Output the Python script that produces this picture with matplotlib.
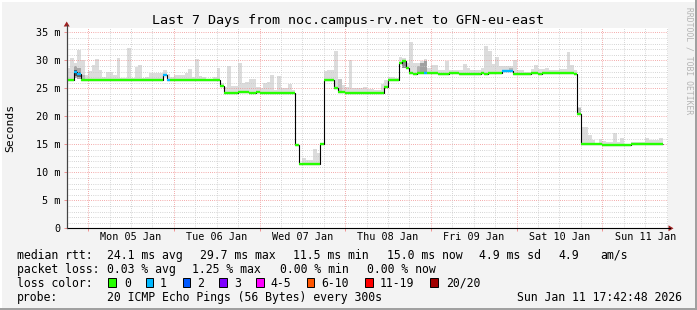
"""
SmokePing style latency graph: last 7 days, noc.campus-rv.net -> GFN-eu-east.
Hourly median (coloured by loss) over grey smoke of the ping spread.
"""
import numpy as np
import matplotlib
matplotlib.use("Agg")
import matplotlib.pyplot as plt
from matplotlib.patches import Rectangle, Polygon

W, H = 697, 310
BG = "#f3f3f3"
MONO = "DejaVu Sans Mono"

# hourly median rtt in ms, first hour = Jan 4 18:00
MEDIAN = [
    26.4, 26.4, 28.0, 27.5, 26.4, 26.4, 26.4, 26.4, 26.4, 26.4,
    26.4, 26.4, 26.4, 26.4, 26.4, 26.4, 26.4, 26.4, 26.4, 26.4,
    26.4, 26.4, 26.4, 26.4, 26.4, 26.4, 26.4, 27.4, 26.4, 26.4,
    26.4, 26.4, 26.4, 26.4, 26.4, 26.4, 26.4, 26.4, 26.4, 26.4,
    26.4, 26.4, 26.4, 25.5, 24.2, 24.2, 24.2, 24.2, 24.4, 24.4,
    24.4, 24.2, 24.2, 24.4, 24.2, 24.2, 24.2, 24.2, 24.2, 24.2,
    24.2, 24.2, 24.2, 24.2, 14.9, 11.5, 11.5, 11.5, 11.5, 11.5,
    11.5, 15.0, 26.4, 26.4, 26.4, 25.0, 24.4, 24.4, 24.2, 24.2,
    24.2, 24.2, 24.2, 24.2, 24.2, 24.2, 24.2, 24.2, 24.2, 25.3,
    26.4, 26.4, 26.4, 29.5, 29.8, 28.6, 27.8, 27.5, 27.8, 27.8,
    27.7, 27.7, 27.7, 27.7, 27.5, 27.5, 27.5, 27.7, 27.7, 27.7,
    27.5, 27.5, 27.5, 27.5, 27.5, 27.5, 27.7, 27.5, 27.8, 27.8,
    27.8, 27.8, 28.1, 28.1, 28.1, 27.5, 27.5, 27.5, 27.5, 27.5,
    27.7, 27.7, 27.5, 27.8, 27.8, 27.8, 27.8, 27.8, 27.8, 27.8,
    27.8, 27.8, 27.5, 20.4, 15.0, 15.0, 15.0, 15.0, 15.0, 15.0,
    14.9, 14.9, 14.9, 14.9, 14.9, 14.9, 14.9, 14.9, 15.0, 15.0,
    15.0, 15.0, 15.0, 15.0, 15.0, 15.0, 15.0,
]

# highest ping of each hour (top of the smoke)
SMOKE_MAX = [
    28.6, 30.4, 29.6, 31.8, 30.0, 27.3, 28.1, 29.2, 30.2, 28.2,
    27.0, 28.0, 28.0, 27.4, 30.5, 26.8, 26.8, 32.2, 26.8, 28.8,
    29.1, 26.9, 27.1, 27.8, 27.8, 27.8, 27.8, 28.2, 27.6, 27.0,
    27.4, 27.4, 27.4, 27.8, 28.5, 27.1, 30.2, 27.2, 27.0, 26.7,
    26.7, 27.0, 28.6, 25.9, 25.3, 28.9, 25.4, 25.5, 29.6, 25.9,
    26.2, 26.6, 26.6, 25.3, 25.0, 26.0, 26.2, 27.3, 24.7, 27.2,
    25.0, 25.0, 25.8, 24.7, 14.9, 11.5, 12.5, 12.2, 12.2, 14.2,
    13.4, 15.0, 28.1, 28.2, 28.2, 31.7, 26.6, 25.6, 25.3, 30.0,
    25.0, 25.0, 25.0, 25.2, 24.8, 24.8, 24.7, 24.7, 25.7, 26.5,
    27.1, 27.1, 26.9, 30.6, 30.5, 29.5, 33.3, 29.5, 29.5, 29.8,
    30.2, 28.6, 29.1, 29.1, 28.3, 28.3, 29.9, 28.3, 28.3, 28.3,
    28.3, 29.3, 28.6, 28.2, 28.2, 28.2, 28.6, 32.6, 31.7, 29.3,
    30.6, 29.0, 28.9, 29.0, 29.0, 30.1, 28.3, 28.3, 28.0, 28.0,
    28.5, 29.2, 28.4, 28.4, 28.7, 28.3, 28.3, 28.3, 28.5, 28.5,
    31.5, 29.2, 28.3, 21.7, 18.1, 18.1, 16.6, 15.8, 15.2, 16.0,
    15.6, 15.4, 15.4, 17.1, 15.4, 16.2, 15.1, 15.1, 15.4, 15.4,
    15.4, 15.4, 16.2, 15.7, 15.7, 15.7, 16.2,
]

# hours that lost one of the 20 pings (loss class 1)
LOSS_HOURS = [2, 3, 27, 28, 100, 122, 123, 124]

# denser smoke near the median where the pings bunched up
DENSE_HOURS = [2, 3, 4, 76, 94, 98, 99, 100, 124, 143, 2, 3]
DENSE_LO = [26.8, 26.6, 26.4, 24.4, 28.6, 27.8, 27.8, 27.8, 27.9, 20.4, 27.2, 27.0]
DENSE_HI = [29.0, 28.6, 27.4, 26.6, 30.0, 29.0, 29.5, 29.8, 28.6, 21.4, 28.3, 28.0]
DENSE_SHADE = ["#a8a8a8", "#a8a8a8", "#b8b8b8", "#c4c4c4", "#909090", "#b0b0b0",
               "#a0a0a0", "#a0a0a0", "#b8b8b8", "#b8b8b8", "#555555", "#606060"]

LOSS_LABELS = ["0", "1", "2", "3", "4-5", "6-10", "11-19", "20/20"]
LOSS_COLORS = ["#26ff00", "#00b8ff", "#0059ff", "#7e00ff",
               "#ff00ff", "#ff5500", "#ff0000", "#a10000"]

DAY_LABELS = ["Mon 05 Jan", "Tue 06 Jan", "Wed 07 Jan", "Thu 08 Jan",
              "Fri 09 Jan", "Sat 10 Jan", "Sun 11 Jan"]
Y_TICKS = [0, 5, 10, 15, 20, 25, 30, 35]
Y_LABELS = ["0", "5 m", "10 m", "15 m", "20 m", "25 m", "30 m", "35 m"]


def fx(x):
    return x / W


def fy(y):
    return 1 - y / H


def main():
    fig = plt.figure(figsize=(W / 100, H / 100), dpi=100, facecolor=BG)

    # plot canvas: x 66.7..668 px, y 28..228.3 px
    ax = fig.add_axes([fx(66.7), fy(228.3), 601.3 / W, 200.3 / H])
    ax.set_facecolor("white")
    ax.set_xlim(-6, 162.4)
    ax.set_ylim(0, 200.3 / 5.6)

    n = len(MEDIAN)
    med = np.array(MEDIAN)
    left = np.arange(n) - 6.0  # hours from Jan 5 00:00

    # smoke
    ax.bar(left, np.array(SMOKE_MAX) - med, bottom=med, width=1.0,
           align="edge", color="#dcdcdc", linewidth=0, zorder=1)
    for h, lo, hi, c in zip(DENSE_HOURS, DENSE_LO, DENSE_HI, DENSE_SHADE):
        ax.bar(left[h], hi - lo, bottom=lo, width=1.0, align="edge",
               color=c, linewidth=0, zorder=1.5)

    # grid drawn on top of the smoke like rrdtool does
    dots = (0, (0.72, 1.44))
    for v in range(1, 36):
        major = v % 5 == 0
        ax.axhline(v, color="#f09090" if major else "#c8c8c8", lw=0.72,
                   linestyle=dots, zorder=2)
    for hr in range(0, 163, 6):
        major = hr % 24 == 0
        ax.axvline(hr, color="#f09090" if major else "#c8c8c8", lw=0.72,
                   linestyle=dots, zorder=2)

    # median: black steps, then loss coloured flats
    edges = np.append(left, left[-1] + 1)
    ax.stairs(med, edges, baseline=None, color="black", lw=0.8, zorder=3)
    loss = np.zeros(n, dtype=int)
    loss[LOSS_HOURS] = 1
    ax.hlines(med, left, left + 1, colors=[LOSS_COLORS[k] for k in loss],
              lw=1.7, zorder=4, capstyle="butt")

    for s in ("top", "right"):
        ax.spines[s].set_visible(False)
    ax.spines["left"].set_color("#444444")
    ax.spines["bottom"].set_color("black")
    ax.spines["left"].set_linewidth(0.8)
    ax.spines["bottom"].set_linewidth(0.8)

    ax.set_xticks([12 + 24 * i for i in range(7)], DAY_LABELS)
    ax.set_xticks(range(0, 163, 24), minor=True)
    ax.tick_params(axis="x", which="major", length=0, pad=2.6,
                   labelsize=7.3)
    ax.tick_params(axis="x", which="minor", length=2.4, width=0.7,
                   color="#f09090", direction="out")
    ax.set_yticks(Y_TICKS, Y_LABELS)
    ax.tick_params(axis="y", length=2.4, width=0.7, pad=2.3, labelsize=7.3,
                   color="#f09090")
    for lab in ax.get_xticklabels() + ax.get_yticklabels():
        lab.set_fontfamily(MONO)

    # axis arrows
    arrow = "#a02020"
    fig.add_artist(plt.Line2D([fx(66.7), fx(66.7)], [fy(228.3), fy(25)],
                              color="#444444", lw=0.8))
    fig.add_artist(plt.Line2D([fx(668), fx(670)], [fy(228.3), fy(228.3)],
                              color="black", lw=0.8))
    fig.add_artist(Polygon([(fx(63.7), fy(26.5)), (fx(69.7), fy(26.5)),
                            (fx(66.7), fy(21.5))], closed=True,
                           facecolor=arrow, edgecolor="none"))
    fig.add_artist(Polygon([(fx(668.5), fy(225.3)), (fx(668.5), fy(231.3)),
                            (fx(673.5), fy(228.3))], closed=True,
                           facecolor=arrow, edgecolor="none"))

    fig.text(fx(348), fy(24), "Last 7 Days from noc.campus-rv.net to GFN-eu-east",
             fontsize=9.6, family=MONO, ha="center", va="baseline")
    fig.text(fx(10.5), fy(128), "Seconds", fontsize=8.2, family=MONO,
             rotation=90, ha="center", va="center")
    fig.text(fx(689.5), fy(61), "RRDTOOL / TOBI OETIKER", fontsize=5.8,
             family=MONO, rotation=-90, ha="center", va="center",
             color="#b4b4b4")

    fs = 8.3
    rows = [
        (258.6, [(16.7, "median rtt:"), (107.3, "24.1 ms avg"),
                 (200, "29.7 ms max"), (292.7, "11.5 ms min"),
                 (386.7, "15.0 ms now"), (479.3, "4.9 ms sd"),
                 (558.3, "4.9"), (600.7, "am/s")]),
        (272.6, [(16.7, "packet loss:"), (107.3, "0.03 % avg"),
                 (191.7, "1.25 % max"), (280, "0.00 % min"),
                 (366.7, "0.00 % now")]),
        (286.6, [(16.7, "loss color:")]),
        (300.6, [(16.7, "probe:"),
                 (107.3, "20 ICMP Echo Pings (56 Bytes) every 300s")]),
    ]
    for base, items in rows:
        for x, t in items:
            fig.text(fx(x), fy(base), t, fontsize=fs, family=MONO,
                     va="baseline")
    fig.text(fx(681.7), fy(300.6), "Sun Jan 11 17:42:48 2026", fontsize=fs,
             family=MONO, ha="right", va="baseline")

    box_x = [108.3, 145.7, 182.7, 219.3, 256, 306.7, 365, 430]
    lab_x = [124, 160, 197, 234.3, 270, 321.7, 380, 446]
    for bx, lx, c, t in zip(box_x, lab_x, LOSS_COLORS, LOSS_LABELS):
        fig.add_artist(Rectangle((fx(bx), fy(286.5)), 7.5 / W, 8.5 / H,
                                 facecolor=c, edgecolor="black", lw=0.7))
        fig.text(fx(lx), fy(286.6), t, fontsize=fs, family=MONO,
                 va="baseline")

    # 3d-ish frame: light top/left, darker bottom/right
    fig.add_artist(Rectangle((0, 1 - 2 / H), 1, 2 / H, facecolor="white",
                             edgecolor="none"))
    fig.add_artist(Rectangle((0, 0), 2 / W, 1, facecolor="white",
                             edgecolor="none"))
    fig.add_artist(Rectangle((0, 0), 1, 2.5 / H, facecolor="#a0a0a0",
                             edgecolor="none"))
    fig.add_artist(Rectangle((1 - 2.5 / W, 0), 2.5 / W, 1,
                             facecolor="#a0a0a0", edgecolor="none"))

    fig.savefig("out.png", dpi=100, facecolor=BG)


if __name__ == "__main__":
    main()
